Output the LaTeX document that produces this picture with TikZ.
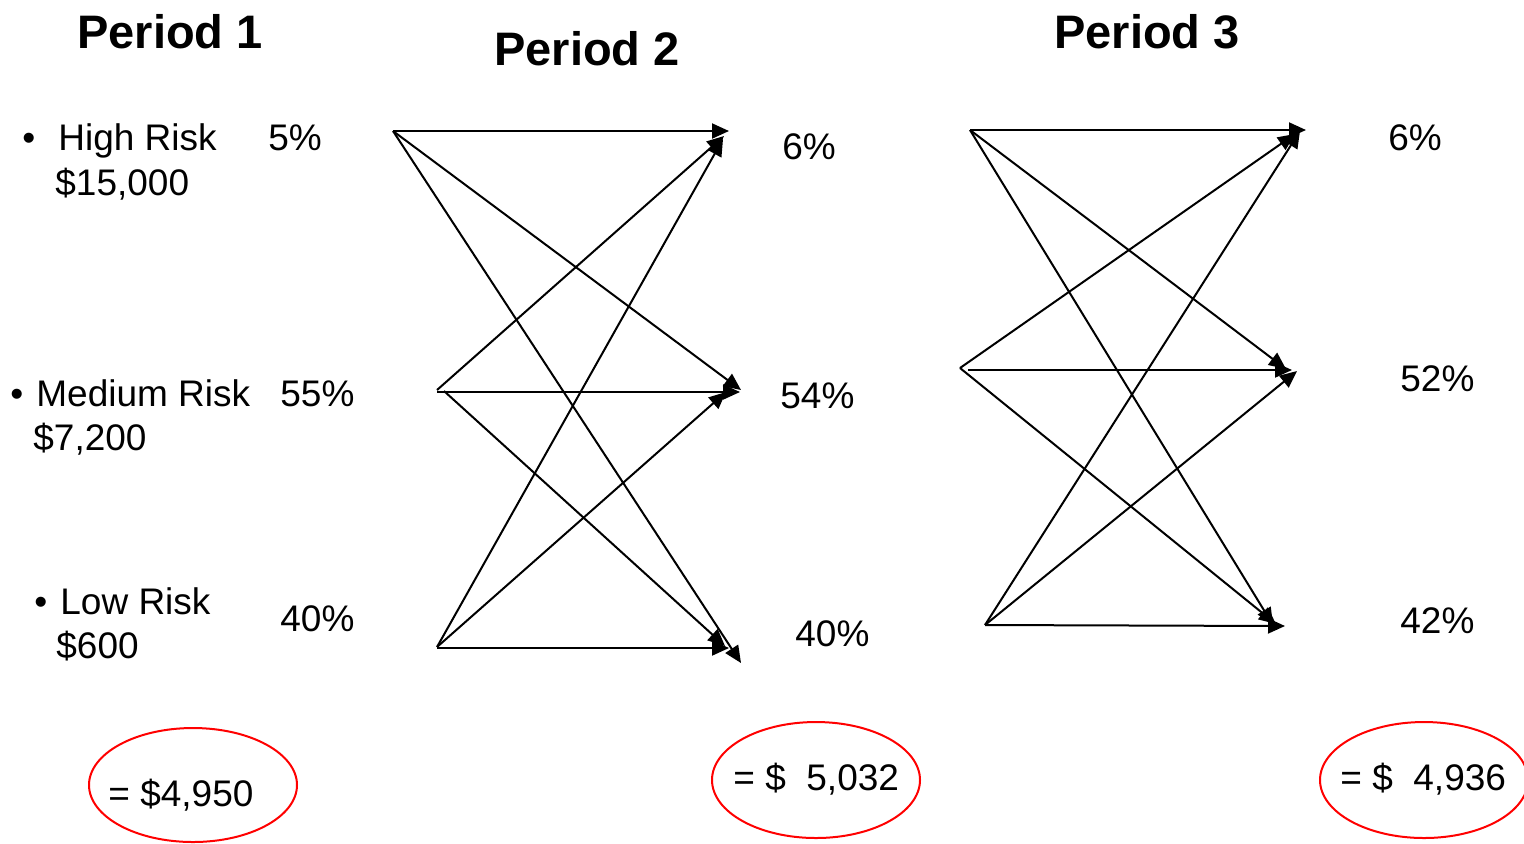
\documentclass[tikz,border=0pt]{standalone}
\usepackage{fontspec}
\setmainfont{Liberation Sans}
\usetikzlibrary{arrows.meta}
\begin{document}
\begin{tikzpicture}[x=0.5pt,y=-0.5pt,
  txt/.style={inner sep=0pt, anchor=base west, font=\fontsize{18.5}{22}\selectfont},
  ttl/.style={inner sep=0pt, anchor=base, font=\fontsize{23.5}{28}\selectfont\bfseries},
  arr/.style={line width=1pt, -{Triangle[length=8.5pt,width=7.5pt]}},
  oval/.style={draw=red, line width=1pt}]
\useasboundingbox (0,0) rectangle (1524,843);
% titles
\node[ttl] (t1) at (170,48) {Period 1};
\node[ttl] (t2) at (587,65) {Period 2};
\node[ttl] (t3) at (1147,48) {Period 3};
% left labels
\node[txt] (b1) at (22,150) {•};
\node[txt] (l1) at (58,150) {High Risk};
\node[txt] (v1) at (55,195) {\$15,000};
\node[txt] (p1) at (268,150) {5\%};
\node[txt] (b2) at (10,406) {•};
\node[txt] (l2) at (36,406) {Medium Risk};
\node[txt] (v2) at (33,450) {\$7,200};
\node[txt] (p2) at (280,406) {55\%};
\node[txt] (b3) at (34,614) {•};
\node[txt] (l3) at (60,614) {Low Risk};
\node[txt] (v3) at (56,658) {\$600};
\node[txt] (p3) at (280,631) {40\%};
% period 2 percentages
\node[txt] (q1) at (782,159) {6\%};
\node[txt] (q2) at (780,408) {54\%};
\node[txt] (q3) at (795,646) {40\%};
% period 3 percentages
\node[txt] (r1) at (1388,150) {6\%};
\node[txt] (r2) at (1400,391) {52\%};
\node[txt] (r3) at (1400,633) {42\%};
% period 2 coordinates
\coordinate (A1) at (393,131);
\coordinate (A2) at (437,390);
\coordinate (A2h) at (437,392);
\coordinate (A2d) at (444,391);
\coordinate (A3) at (437,647);
\coordinate (A3h) at (437,648);
\coordinate (H1) at (729,131);
\coordinate (H2) at (724,136);
\coordinate (H3) at (723,139);
\coordinate (M1) at (741,390);
\coordinate (M2) at (740,392);
\coordinate (M3) at (726,392);
\coordinate (L1) at (741,663);
\coordinate (L2) at (725,646);
\coordinate (L3) at (729,648);
\draw[arr] (A1) -- (H1);
\draw[arr] (A1) -- (M1);
\draw[arr] (A1) -- (L1);
\draw[arr] (A2) -- (H2);
\draw[arr] (A2h) -- (M2);
\draw[arr] (A2d) -- (L2);
\draw[arr] (A3) -- (H3);
\draw[arr] (A3) -- (M3);
\draw[arr] (A3h) -- (L3);
% period 3 coordinates
\coordinate (B1) at (970,130);
\coordinate (B2) at (960,368);
\coordinate (B2h) at (968,370);
\coordinate (B3) at (985,625);
\coordinate (S1) at (1306,130);
\coordinate (S2) at (1295,134);
\coordinate (S3) at (1300,131);
\coordinate (U1) at (1286,369);
\coordinate (U2) at (1292,370);
\coordinate (U3) at (1297,371);
\coordinate (W1) at (1273,625);
\coordinate (W2) at (1276,624);
\coordinate (W3) at (1285,626);
\draw[arr] (B1) -- (S1);
\draw[arr] (B1) -- (U1);
\draw[arr] (B1) -- (W1);
\draw[arr] (B2) -- (S2);
\draw[arr] (B2h) -- (U2);
\draw[arr] (B2) -- (W2);
\draw[arr] (B3) -- (S3);
\draw[arr] (B3) -- (U3);
\draw[arr] (B3) -- (W3);
% totals
\draw[oval] (193,785) ellipse[x radius=104, y radius=57];
\node[txt] (e1) at (108,806) {= \$4,950};
\draw[oval] (816,780) ellipse[x radius=104, y radius=58];
\node[txt] (e2) at (733,790) {= \$\ \ 5,032};
\draw[oval] (1424,780) ellipse[x radius=104, y radius=58];
\node[txt] (e3) at (1340,790) {= \$\ \ 4,936};
\end{tikzpicture}
\end{document}
